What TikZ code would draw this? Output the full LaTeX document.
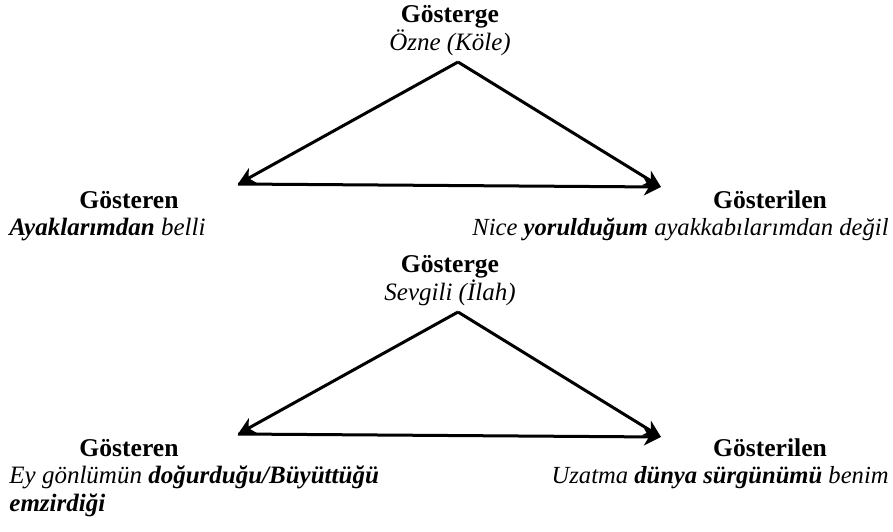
\documentclass[tikz,border=0pt]{standalone}
\usepackage{fontspec}
\setmainfont{Liberation Serif}
\usetikzlibrary{arrows.meta}
\begin{document}
\begin{tikzpicture}[x=0.5pt,y=-0.5pt,
  every node/.style={inner sep=0pt, font=\fontsize{12.5}{15}\selectfont},
  head/.style={font=\fontsize{12.8}{15}\selectfont\bfseries, anchor=base},
  subc/.style={font=\fontsize{12.5}{15}\selectfont\itshape, anchor=base},
  subl/.style={font=\fontsize{12.5}{15}\selectfont\itshape, anchor=base west},
  subr/.style={font=\fontsize{12.3}{15}\selectfont\itshape, anchor=base east},
  conn/.style={line width=1.5pt, -{Stealth[length=8.5pt,width=8.5pt,inset=2.5pt]}}]
\useasboundingbox (0,0) rectangle (893,531);
% first triangle
\coordinate (a1) at (458,62);
\coordinate (l1) at (238,184);
\coordinate (r1) at (661,187);
\draw[conn] (a1) -- (l1);
\draw[conn] (l1) -- (r1);
\draw[conn] (a1) -- (r1);
\node[head] (g1) at (450,22) {Gösterge};
\node[subc] (g1s) at (450,50) {Özne (Köle)};
\node[head] (sn1) at (129,208) {Gösteren};
\node[subl] (sn1s) at (9,235) {\textbf{Ayaklarımdan} belli};
\node[head] (sl1) at (770,208) {Gösterilen};
\node[subr] (sl1s) at (889,235) {Nice \textbf{yorulduğum} ayakkabılarımdan değil};
% second triangle
\coordinate (a2) at (458,312);
\coordinate (l2) at (238,434);
\coordinate (r2) at (661,437);
\draw[conn] (a2) -- (l2);
\draw[conn] (l2) -- (r2);
\draw[conn] (a2) -- (r2);
\node[head] (g2) at (450,272) {Gösterge};
\node[subc] (g2s) at (450,300) {Sevgili (İlah)};
\node[head] (sn2) at (129,456) {Gösteren};
\node[subl] (sn2s) at (9,483) {Ey gönlümün \textbf{doğurduğu/Büyüttüğü}};
\node[subl] (sn2t) at (9,511) {\textbf{emzirdiği}};
\node[head] (sl2) at (770,456) {Gösterilen};
\node[subr] (sl2s) at (889,483) {Uzatma \textbf{dünya sürgünümü} benim};
\end{tikzpicture}
\end{document}
